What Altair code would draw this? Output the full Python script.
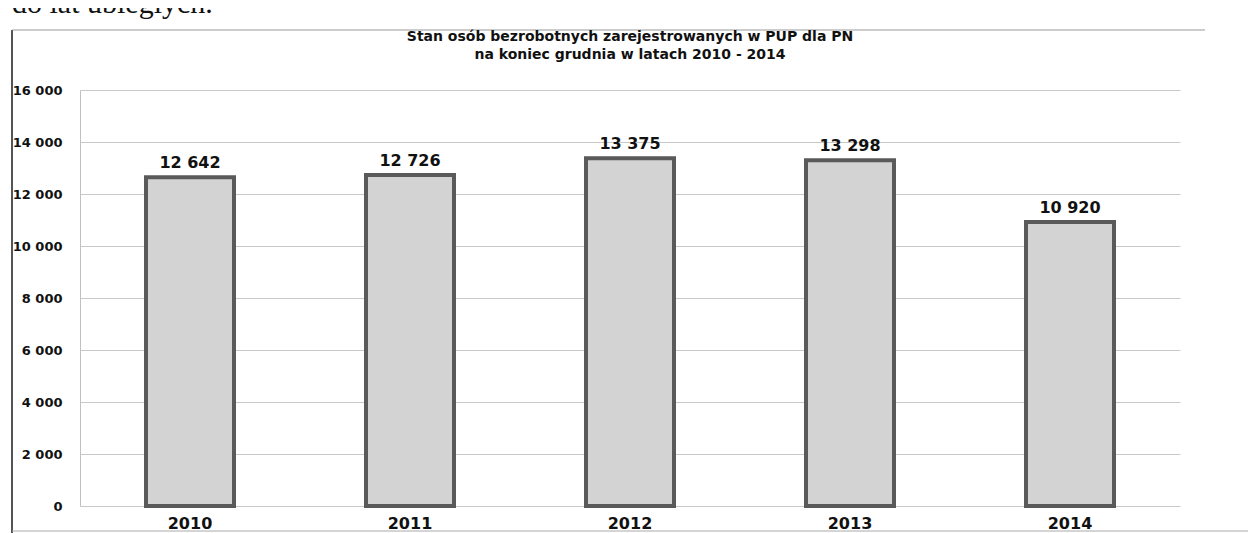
import altair as alt
import pandas as pd

years = ["2010", "2011", "2012", "2013", "2014"]
values = [12642, 12726, 13375, 13298, 10920]
y_ticks = [0, 2000, 4000, 6000, 8000, 10000, 12000, 14000, 16000]
title_line1 = ["Stan osób bezrobotnych zarejestrowanych w PUP dla PN"]
title_line2 = ["na koniec grudnia w latach 2010 - 2014"]
page_text = ["do lat ubiegłych."]

df = pd.DataFrame({"rok": years, "osoby": values})
FONT = "DejaVu Sans"

base = alt.Chart(df)

x_enc = alt.X("rok:N", sort=years, title=None,
              scale=alt.Scale(paddingInner=0.6, paddingOuter=0.3),
              axis=alt.Axis(labelAngle=0, ticks=False, domain=False,
                            labelFont=FONT, labelFontWeight="bold",
                            labelFontSize=16, labelColor="#111",
                            labelPadding=9))
y_enc = alt.Y("osoby:Q", title=None,
              scale=alt.Scale(domain=[0, 16000], nice=False),
              axis=alt.Axis(values=y_ticks, ticks=False, domain=True,
                            domainColor="#c0c0c0", domainWidth=1,
                            grid=True, gridColor="#c8c8c8", gridWidth=1,
                            labelFont=FONT, labelFontWeight="bold",
                            labelFontSize=13, labelColor="#111",
                            labelPadding=18,
                            labelExpr="replace(format(datum.value, ','), ',', ' ')"))

bars = base.mark_bar(fill="#d3d3d3", stroke="#5a5a5a", strokeWidth=4).encode(
    x=x_enc, y=y_enc)

labels = base.transform_calculate(
    lab="replace(format(datum.osoby, ','), ',', ' ')"
).mark_text(font=FONT, fontWeight="bold", fontSize=16, color="#111",
            baseline="bottom", dy=-6).encode(
    x=alt.X("rok:N", sort=years), y="osoby:Q", text="lab:N")

one = pd.DataFrame({"k": [0]})
left_border = alt.Chart(one).mark_rule(color="#555555", strokeWidth=2).encode(
    x=alt.value(-68), y=alt.value(-60), y2=alt.value(450))
top_border = alt.Chart(one).mark_rule(color="#999999", strokeWidth=1).encode(
    x=alt.value(-68), x2=alt.value(1125), y=alt.value(-60))
bottom_border = alt.Chart(one).mark_rule(color="#aaaaaa", strokeWidth=1).encode(
    x=alt.value(-68), x2=alt.value(1170), y=alt.value(441))

top_text = alt.Chart(pd.DataFrame({"t": page_text})).mark_text(
    font="Liberation Serif", fontSize=30, align="left", baseline="alphabetic",
    color="#111").encode(x=alt.value(-68), y=alt.value(-77), text="t:N")

t1 = alt.Chart(pd.DataFrame({"t": title_line1})).mark_text(
    font=FONT, fontSize=14, fontWeight="bold", color="#111",
    align="center", baseline="middle").encode(
    x=alt.value(550), y=alt.value(-53), text="t:N")
t2 = alt.Chart(pd.DataFrame({"t": title_line2})).mark_text(
    font=FONT, fontSize=14, fontWeight="bold", color="#111",
    align="center", baseline="middle").encode(
    x=alt.value(550), y=alt.value(-35), text="t:N")

chart = alt.layer(left_border, top_border, bottom_border, bars, labels,
                  top_text, t1, t2).properties(
    width=1100, height=416,
    autosize=alt.AutoSizeParams(type="none"),
    padding={"left": 72, "top": 82, "right": 68, "bottom": 40},
).configure(background="white", view=alt.ViewConfig(strokeWidth=0))

chart.save("out.html", embed_options={"renderer": "svg", "actions": False})
